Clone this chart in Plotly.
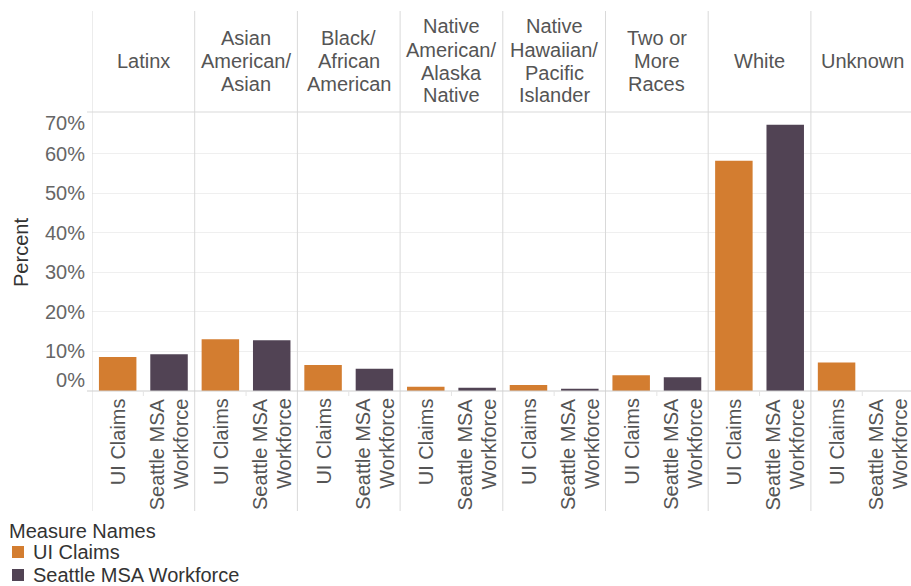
import plotly.graph_objects as go

# ---------------- data ----------------
group_lines = [
    ["Latinx"],
    ["Asian", "American/", "Asian"],
    ["Black/", "African", "American"],
    ["Native", "American/", "Alaska", "Native"],
    ["Native", "Hawaiian/", "Pacific", "Islander"],
    ["Two or", "More", "Races"],
    ["White"],
    ["Unknown"],
]
measures = ["UI Claims", "Seattle MSA Workforce"]
measure_tick_lines = [["UI Claims"], ["Seattle MSA", "Workforce"]]
ui_claims = [8.6, 13.1, 6.6, 1.1, 1.5, 4.0, 58.2, 7.2]
seattle_msa = [9.3, 12.8, 5.6, 0.8, 0.6, 3.5, 67.3, 0.0]
y_ticks = [0, 10, 20, 30, 40, 50, 60, 70]
y_tick_labels = ["0%", "10%", "20%", "30%", "40%", "50%", "60%", "70%"]

# ---------------- layout constants ----------------
W, H = 911, 586
L, T = 92, 114
PLOT_BOTTOM = 391
B = H - PLOT_BOTTOM
plot_h = PLOT_BOTTOM - T
slot_px = 102.7 / 2
x_max = -0.5 + (W - L) / slot_px
FONT = "Liberation Sans, Arial, sans-serif"
ORANGE = "#D37D30"
PURPLE = "#514354"
COLORS = [ORANGE, PURPLE]
GRID = "#efefef"
DIV = "#d9d9d9"


def py(px):
    """pixel y -> paper y"""
    return (PLOT_BOTTOM - px) / plot_h


def px_x(px):
    return (px - L) / (W - L)


n = len(group_lines)
x_ui = [2 * i for i in range(n)]
x_se = [2 * i + 1 for i in range(n)]

fig = go.Figure()
fig.add_trace(go.Bar(x=x_ui, y=ui_claims, name=measures[0], marker_color=ORANGE,
                     marker_line_width=0, width=0.73, showlegend=False))
fig.add_trace(go.Bar(x=x_se, y=seattle_msa, name=measures[1], marker_color=PURPLE,
                     marker_line_width=0, width=0.73, showlegend=False))
# invisible trace carrying the label axis
fig.add_trace(go.Scatter(x=[0], y=[0], yaxis="y2", mode="markers",
                         marker_opacity=0, showlegend=False, hoverinfo="skip"))

# y tick label positions: end labels nudged inside the pane (as in the reference)
label_pos = list(y_ticks)
label_pos[0] = y_ticks[0] + 2.8
label_pos[-1] = y_ticks[-1] - 2.3

shapes = []
# column dividers (full height: header, pane, footer)
for k in range(n + 1):
    shapes.append(dict(type="line", xref="x", yref="paper", x0=2 * k - 0.5, x1=2 * k - 0.5,
                       y0=py(511), y1=py(11), line=dict(color=DIV, width=1), layer="above"))
# header bottom border
shapes.append(dict(type="line", xref="paper", yref="paper", x0=px_x(87), x1=1,
                   y0=py(112), y1=py(112), line=dict(color=DIV, width=1)))
# baseline
shapes.append(dict(type="line", xref="paper", yref="paper", x0=px_x(87), x1=1,
                   y0=0, y1=0, line=dict(color="#cfcfcf", width=1), layer="above"))
# small ticks between pairs
for i in range(n):
    shapes.append(dict(type="line", xref="x", yref="paper", x0=2 * i + 0.5, x1=2 * i + 0.5,
                       y0=py(391), y1=py(396), line=dict(color="#e4e4e4", width=1)))

annotations = []
# group headers
for i, lines in enumerate(group_lines):
    m = len(lines)
    for j, t in enumerate(lines):
        ypix = 61 + (j - (m - 1) / 2) * 23
        annotations.append(dict(text=t, x=2 * i + 0.5, xref="x", y=py(ypix), yref="paper",
                                xanchor="center", yanchor="middle", showarrow=False,
                                font=dict(family=FONT, size=20, color="#555555")))
# measure labels below axis
for i in range(n):
    for mi, lines in enumerate(measure_tick_lines):
        m = len(lines)
        for j, t in enumerate(lines):
            annotations.append(dict(text=t, x=2 * i + mi, xref="x",
                                    xshift=(j - (m - 1) / 2) * 23.5,
                                    y=py(396), yref="paper", textangle=-90,
                                    xanchor="center", yanchor="top", showarrow=False,
                                    font=dict(family=FONT, size=20, color="#555555")))

# legend (Tableau-style, below the chart)
annotations.append(dict(text="Measure Names", x=px_x(7), xref="paper", y=py(531), yref="paper",
                        xanchor="left", yanchor="middle", showarrow=False,
                        font=dict(family=FONT, size=20, color="#333333")))
for k, name in enumerate(measures):
    cy = 552 + k * 23
    shapes.append(dict(type="rect", xref="paper", yref="paper",
                       x0=px_x(12), x1=px_x(24), y0=py(cy + 6), y1=py(cy - 6),
                       fillcolor=COLORS[k], line=dict(width=0)))
    annotations.append(dict(text=name, x=px_x(31), xref="paper", y=py(cy), yref="paper",
                            xanchor="left", yanchor="middle", showarrow=False,
                            font=dict(family=FONT, size=20, color="#333333")))

fig.update_layout(
    width=W, height=H,
    margin=dict(l=L, r=0, t=T, b=B, pad=0, autoexpand=False),
    paper_bgcolor="white", plot_bgcolor="white",
    barmode="overlay",
    showlegend=False,
    xaxis=dict(range=[-0.5, x_max], showticklabels=False, showgrid=False, zeroline=False,
               showline=False, ticks="", fixedrange=True, automargin=False),
    yaxis=dict(range=[0, 70], tickvals=y_ticks, showticklabels=False, showgrid=True,
               gridcolor=GRID, gridwidth=1, zeroline=False, showline=False, ticks="",
               automargin=False),
    yaxis2=dict(range=[0, 70], overlaying="y", side="left", tickvals=label_pos,
                ticktext=y_tick_labels, showgrid=False, zeroline=False, showline=False,
                ticks="", ticklabelstandoff=6, automargin=False,
                tickfont=dict(family=FONT, size=20, color="#666666"),
                title=dict(text="Percent", font=dict(family=FONT, size=20, color="#333333"),
                           standoff=10)),
    shapes=shapes,
    annotations=annotations,
    font=dict(family=FONT),
)

fig.write_html("out.html", config={"displayModeBar": False},
               post_script="document.body.style.margin='0';document.body.style.overflow='hidden';")
